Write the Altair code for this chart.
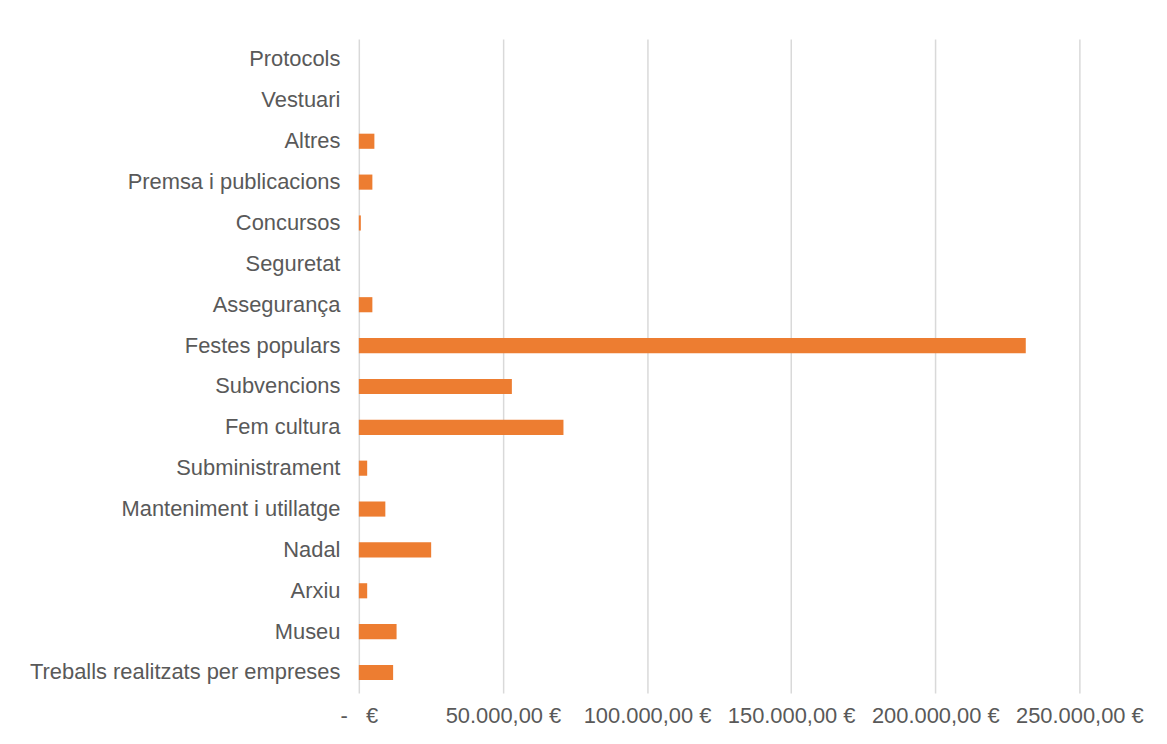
import altair as alt
import pandas as pd

categories = [
    "Protocols", "Vestuari", "Altres", "Premsa i publicacions", "Concursos",
    "Seguretat", "Assegurança", "Festes populars", "Subvencions", "Fem cultura",
    "Subministrament", "Manteniment i utillatge", "Nadal", "Arxiu", "Museu",
    "Treballs realitzats per empreses",
]
values = [0, 0, 5400, 4700, 700, 0, 4700, 231400, 53100, 71000,
          2900, 9200, 25100, 2900, 13100, 11900]
x_ticks = [0, 50000, 100000, 150000, 200000, 250000]

df = pd.DataFrame({"categoria": categories, "import": values})

label_expr = (
    "datum.value == 0 ? '-\u00a0\u00a0\u00a0€' : "
    "replace(replace(replace(format(datum.value, ',.2f'), ',', '#'), '.', ','), '#', '.') + '\u00a0€'"
)

chart = alt.Chart(df).mark_bar(color="#ED7D31").encode(
    x=alt.X(
        "import:Q",
        scale=alt.Scale(domain=[0, 250000], nice=False),
        axis=alt.Axis(
            values=x_ticks, title=None, domain=False, ticks=False, tickSize=0,
            labelExpr=label_expr, labelPadding=13, labelFontSize=22,
            labelFont="Liberation Sans", labelColor="#595959",
            labelOverlap=False, labelFlush=False,
            grid=True, gridColor="#d9d9d9", gridWidth=1.5,
        ),
    ),
    y=alt.Y(
        "categoria:N",
        sort=categories,
        scale=alt.Scale(paddingInner=0.63, paddingOuter=0.315),
        axis=alt.Axis(
            title=None, domain=False, ticks=False, tickSize=0, grid=False,
            labelPadding=19, labelFontSize=22, labelFont="Liberation Sans",
            labelColor="#595959", labelLimit=0,
        ),
    ),
).properties(
    width=724,
    height=657,
    autosize=alt.AutoSizeParams(type="none"),
    padding={"left": 352.5, "top": 29.5, "right": 80, "bottom": 36},
).configure_view(stroke=None)

chart.save("out.html", embed_options={"renderer": "svg", "actions": False})
